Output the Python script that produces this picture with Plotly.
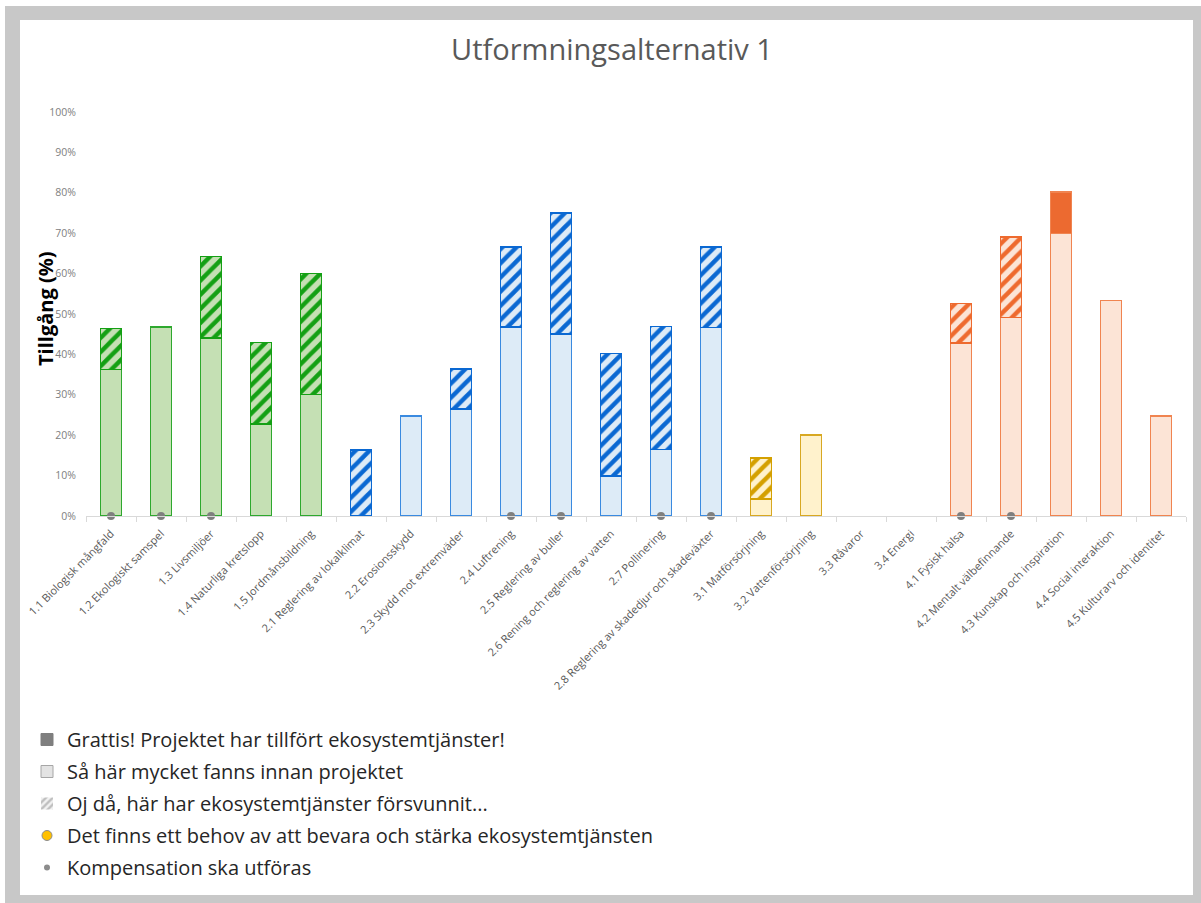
import plotly.graph_objects as go

categories = [
    "1.1 Biologisk mångfald", "1.2 Ekologiskt samspel", "1.3 Livsmiljöer",
    "1.4 Naturliga kretslopp", "1.5 Jordmånsbildning", "2.1 Reglering av lokalklimat",
    "2.2 Erosionsskydd", "2.3 Skydd mot extremväder", "2.4 Luftrening",
    "2.5 Reglering av buller", "2.6 Rening och reglering av vatten", "2.7 Pollinering",
    "2.8 Reglering av skadedjur och skadeväxter", "3.1 Matförsörjning",
    "3.2 Vattenförsörjning", "3.3 Råvaror", "3.4 Energi", "4.1 Fysisk hälsa",
    "4.2 Mentalt välbefinnande", "4.3 Kunskap och inspiration",
    "4.4 Social interaktion", "4.5 Kulturarv och identitet",
]
group = [1, 1, 1, 1, 1, 2, 2, 2, 2, 2, 2, 2, 2, 3, 3, 3, 3, 4, 4, 4, 4, 4]
before = [0.363, 0.468, 0.440, 0.228, 0.301, 0.0, 0.248, 0.265, 0.468, 0.450, 0.099,
          0.165, 0.467, 0.042, 0.200, 0.0, 0.0, 0.428, 0.491, 0.699, 0.534, 0.248]
lost = [0.101, 0.0, 0.202, 0.201, 0.299, 0.163, 0.0, 0.099, 0.198, 0.300, 0.303,
        0.304, 0.199, 0.102, 0.0, 0.0, 0.0, 0.098, 0.199, 0.0, 0.0, 0.0]
gained = [0.0] * 19 + [0.103, 0.0, 0.0]
compensation = ["1.1 Biologisk mångfald", "1.2 Ekologiskt samspel", "1.3 Livsmiljöer",
                "2.4 Luftrening", "2.5 Reglering av buller", "2.7 Pollinering",
                "2.8 Reglering av skadedjur och skadeväxter", "4.1 Fysisk hälsa",
                "4.2 Mentalt välbefinnande"]
y_ticks = [0, 0.1, 0.2, 0.3, 0.4, 0.5, 0.6, 0.7, 0.8, 0.9, 1.0]

legend_labels = [
    "Grattis! Projektet har tillfört ekosystemtjänster!",
    "Så här mycket fanns innan projektet",
    "Oj då, här har ekosystemtjänster försvunnit...",
    "Det finns ett behov av att bevara och stärka ekosystemtjänsten",
    "Kompensation ska utföras",
]

# styles per group
fill = {1: "#C5E0B4", 2: "#DDEBF7", 3: "#FFF2CC", 4: "#FCE4D6"}
edge = {1: "#2EA82E", 2: "#3A8AE0", 3: "#D8A822", 4: "#F08450"}
hatch = {1: "#14A014", 2: "#0A68D2", 3: "#D4A000", 4: "#EE6A2E"}
solid = {1: "#14A014", 2: "#0A68D2", 3: "#D4A000", 4: "#EC6A30"}

W, H = 1201, 903
ML, MR, MT, MB = 86, 15, 112, 387
PW, PH = W - ML - MR, H - MT - MB


def px_x(p):
    return (p - ML) / PW


def px_y(p):
    return (H - MB - p) / PH


def nz(v):
    return [x if x > 0 else None for x in v]


fig = go.Figure()

fig.add_trace(go.Bar(
    x=categories, y=nz(before), showlegend=False,
    marker=dict(color=[fill[g] for g in group],
                line=dict(color=[edge[g] for g in group], width=1.5)),
    width=0.42, hoverinfo="skip",
))
for g in (1, 2, 3, 4):
    vals = [v if (gg == g and v > 0) else None for v, gg in zip(lost, group)]
    fig.add_trace(go.Bar(
        x=categories, y=vals, showlegend=False,
        marker=dict(color=fill[g], line=dict(color=hatch[g], width=1.5),
                    pattern=dict(shape="/", fgcolor=hatch[g], bgcolor=fill[g],
                                 size=10, solidity=0.45, fillmode="replace")),
        width=0.42, hoverinfo="skip",
    ))
fig.add_trace(go.Bar(
    x=categories, y=nz(gained), showlegend=False,
    marker=dict(color=[solid[g] for g in group],
                line=dict(color=[edge[g] for g in group], width=1.5)),
    width=0.42, hoverinfo="skip",
))
fig.add_trace(go.Scatter(
    x=compensation, y=[0] * len(compensation), mode="markers", showlegend=False,
    marker=dict(color="#7F7F7F", size=8), cliponaxis=False, hoverinfo="skip",
))

# legend entries
fig.add_trace(go.Bar(x=[categories[0]], y=[None], name=legend_labels[0],
                     marker=dict(color="#7F7F7F", line=dict(color="#7F7F7F", width=1)),
                     legendgroup="a"))
fig.add_trace(go.Bar(x=[categories[0]], y=[None], name=legend_labels[1],
                     marker=dict(color="#E3E3E3", line=dict(color="#A6A6A6", width=1)),
                     legendgroup="b"))
fig.add_trace(go.Bar(x=[categories[0]], y=[None], name=legend_labels[2],
                     marker=dict(color="#FFFFFF", line=dict(color="#FFFFFF", width=0),
                                 pattern=dict(shape="/", fgcolor="#8C8C8C", bgcolor="#F2F2F2",
                                              size=6, solidity=0.5)),
                     legendgroup="c"))
fig.add_trace(go.Scatter(x=[categories[0]], y=[None], name=legend_labels[3], mode="markers",
                         marker=dict(color="#FFC000", size=10, line=dict(color="#8C8C8C", width=1)),
                         legendgroup="d"))
fig.add_trace(go.Scatter(x=[categories[0]], y=[None], name=legend_labels[4], mode="markers",
                         marker=dict(color="#8C8C8C", size=6),
                         legendgroup="e"))

shapes = [
    dict(type="rect", xref="paper", yref="paper", layer="below",
         x0=px_x(5), x1=px_x(1205), y0=px_y(6), y1=px_y(910),
         fillcolor="#C8C8C8", line=dict(width=0)),
    dict(type="rect", xref="paper", yref="paper", layer="below",
         x0=px_x(20), x1=px_x(1193), y0=px_y(20), y1=px_y(895),
         fillcolor="#FFFFFF", line=dict(width=0)),
]

font_family = "Open Sans, Noto Sans, Liberation Sans, sans-serif"

fig.update_layout(
    width=W, height=H,
    margin=dict(l=ML, r=MR, t=MT, b=MB),
    paper_bgcolor="#FFFFFF", plot_bgcolor="rgba(0,0,0,0)",
    barmode="stack",
    font=dict(family=font_family, color="#595959"),
    title=dict(text="Utformningsalternativ 1", x=612 / W, xref="container", xanchor="center",
               y=1 - 50 / H, yref="container", yanchor="middle",
               font=dict(size=29, color="#595959", family=font_family)),
    xaxis=dict(categoryorder="array", categoryarray=categories,
               range=[-0.5, len(categories) - 0.5],
               tickangle=-45, tickfont=dict(size=11, color="#595959"),
               showline=True, linecolor="#D9D9D9", linewidth=1,
               ticks="outside", tickson="boundaries", ticklen=5, tickcolor="#D9D9D9",
               ticklabelstandoff=6,
               showgrid=False, zeroline=False),
    yaxis=dict(range=[0, 1.0], tickvals=y_ticks, tickformat=".0%",
               tickfont=dict(size=10.5, color="#808080"), showgrid=False, zeroline=False,
               showline=False, ticks="", ticklabelstandoff=9),
    annotations=[dict(text="<b>Tillgång (%)</b>", textangle=-90, xref="paper", yref="paper",
                      x=px_x(45), y=px_y(309), xanchor="center", yanchor="middle",
                      showarrow=False, font=dict(size=20, color="#000000"))],
    legend=dict(x=px_x(27), y=px_y(720), xanchor="left", yanchor="top",
                orientation="v", traceorder="grouped", tracegroupgap=3,
                font=dict(size=20, color="#262626"), bgcolor="rgba(0,0,0,0)",
                itemsizing="trace"),
    shapes=shapes,
    bargap=0.58,
)

fig.write_html("out.html", config={"displayModeBar": False},
               post_script="document.body.style.margin='0';document.body.style.overflow='hidden';")
